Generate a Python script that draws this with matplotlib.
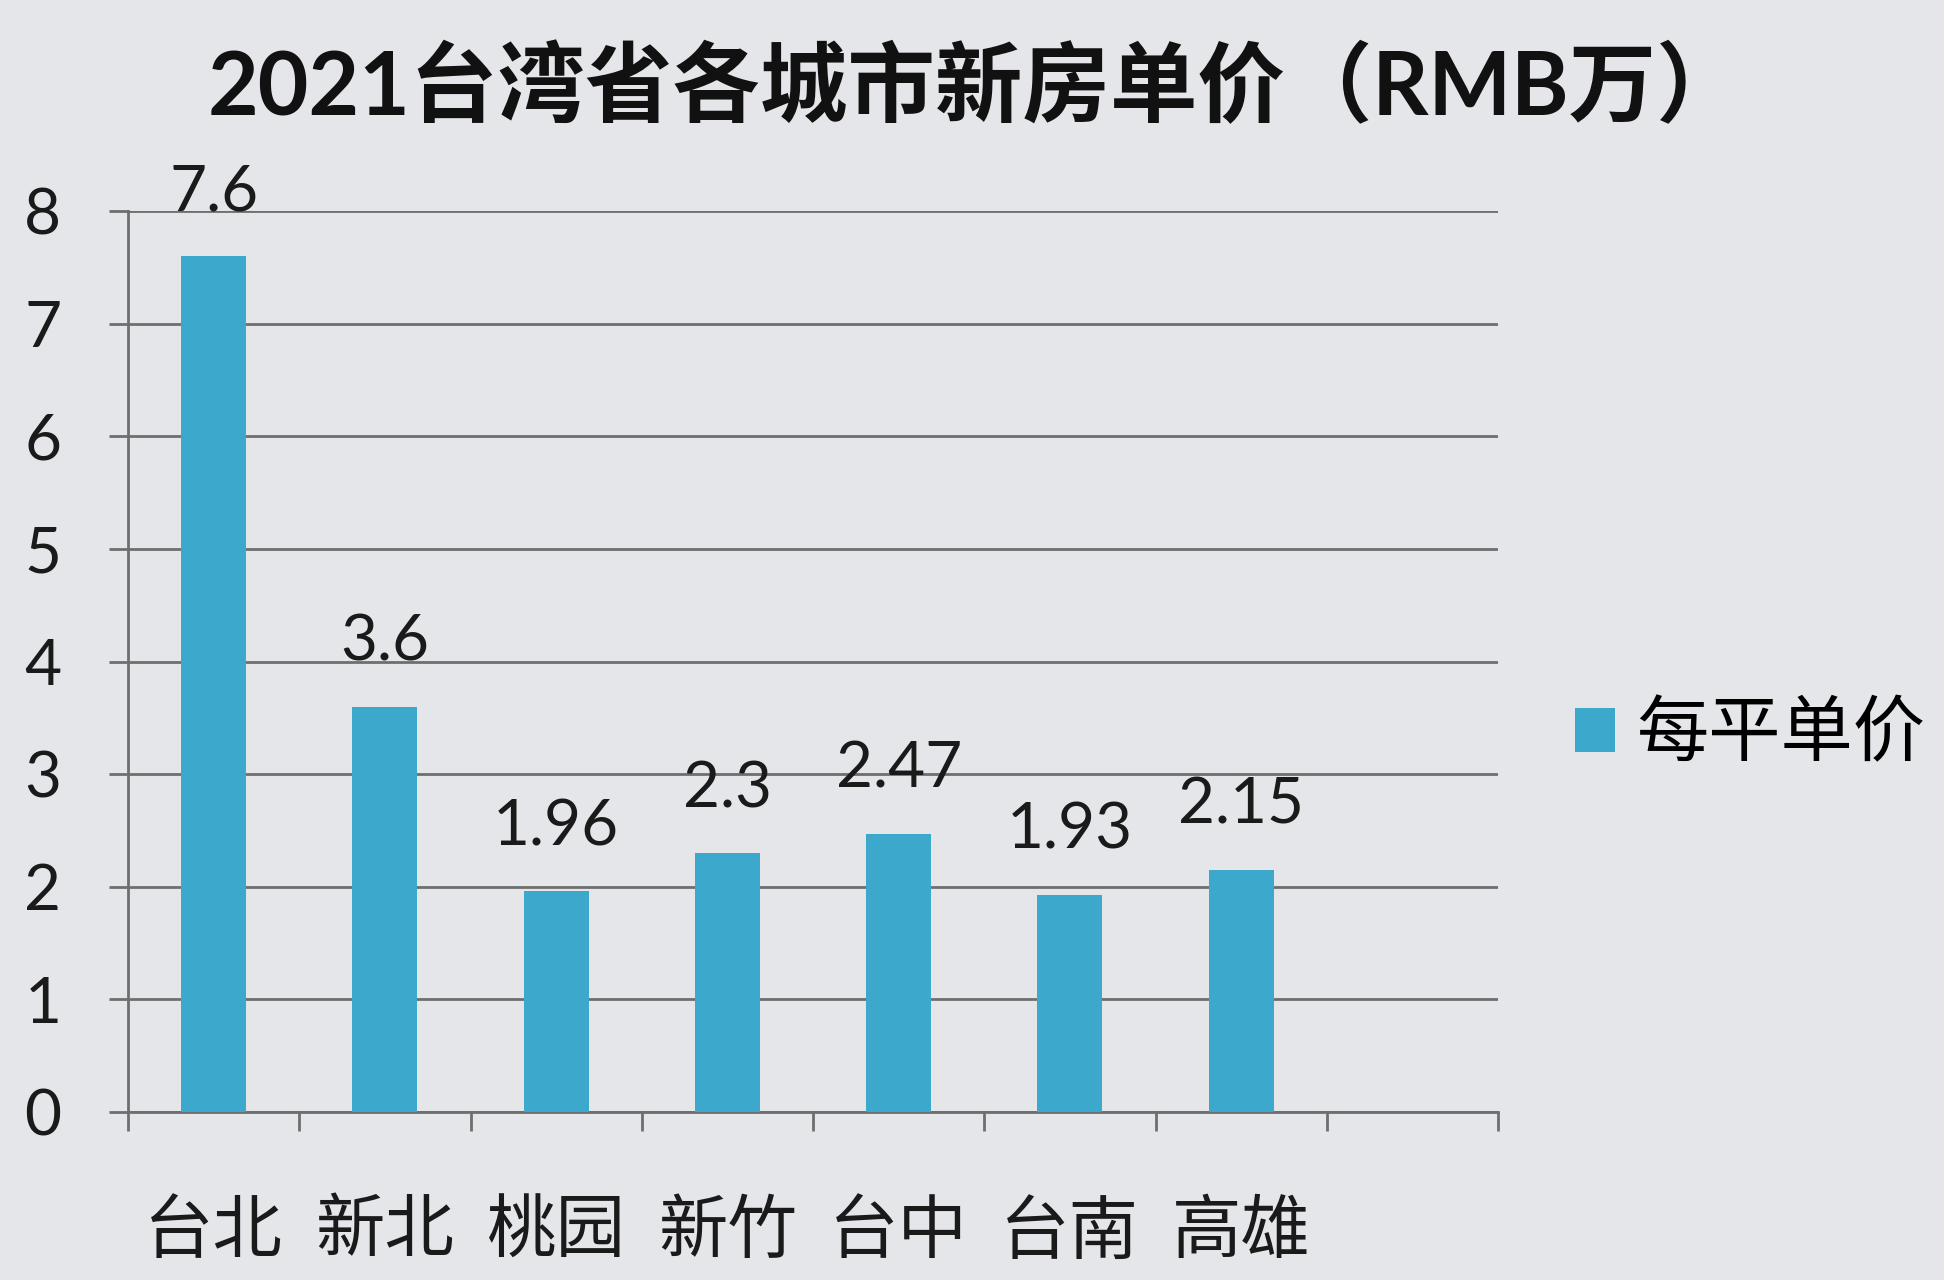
import matplotlib
matplotlib.use("Agg")
import matplotlib.pyplot as plt
import numpy as np

plt.rcParams['font.family'] = ['Lato', 'Noto Sans CJK SC', 'DejaVu Sans']

cities = ['台北', '新北', '桃园', '新竹', '台中', '台南', '高雄']
prices = [7.6, 3.6, 1.96, 2.3, 2.47, 1.93, 2.15]
price_labels = ['7.6', '3.6', '1.96', '2.3', '2.47', '1.93', '2.15']
n_slots = 8  # chart keeps one empty category slot on the right
series_name = '每平单价'
title = '2021台湾省各城市新房单价（RMB万）'

bg = '#e5e6ea'
bar_color = '#3ba8cc'
grid_color = '#6e6e6e'

fig = plt.figure(figsize=(19.44, 12.8), dpi=100, facecolor=bg)
ax = fig.add_axes([128 / 1944, 1 - 1112 / 1280, 1370 / 1944, 901 / 1280])
ax.set_facecolor(bg)

x = np.arange(len(cities))
bars = ax.bar(x, prices, width=0.38, color=bar_color, label=series_name, zorder=3)

for xi, v, s in zip(x, prices, price_labels):
    ax.annotate(s, (xi, v), xytext=(0, 46), textcoords='offset points',
                ha='center', va='center', fontsize=46, color='#1a1a1a', zorder=4)

ax.set_xlim(-0.5, n_slots - 0.5)
ax.set_ylim(0, 8)
ax.set_yticks(np.arange(0, 9, 1))
ax.grid(axis='y', color=grid_color, linewidth=2, zorder=1)
ax.tick_params(axis='y', direction='out', length=14, width=2, color=grid_color,
               pad=34, labelsize=46, labelcolor='#1a1a1a')

# boundaries between categories carry the tick marks, names sit at the centres
ax.set_xticks(np.arange(-0.5, n_slots, 1))
ax.set_xticklabels([])
ax.set_xticks(x, minor=True)
ax.set_xticklabels(cities, minor=True)
ax.tick_params(axis='x', which='major', direction='out', length=14, width=2,
               color=grid_color)
ax.tick_params(axis='x', which='minor', length=0, pad=63, labelsize=50,
               labelcolor='#1a1a1a')

for side in ['top', 'right']:
    ax.spines[side].set_visible(False)
for side in ['left', 'bottom']:
    ax.spines[side].set_color(grid_color)
    ax.spines[side].set_linewidth(2)

fig.legend(handles=[bars], labels=[series_name], loc='center left',
           bbox_to_anchor=(1575 / 1944, 1 - 734 / 1280), frameon=False,
           fontsize=52, handlelength=0.55, handleheight=0.55,
           handletextpad=0.3, borderpad=0, borderaxespad=0)

fig.text(0.502, 1 - 88 / 1280, title, ha='center', va='center',
         fontsize=63, fontweight='bold', color='#111111')

fig.savefig('out.png', dpi=100, facecolor=bg)
